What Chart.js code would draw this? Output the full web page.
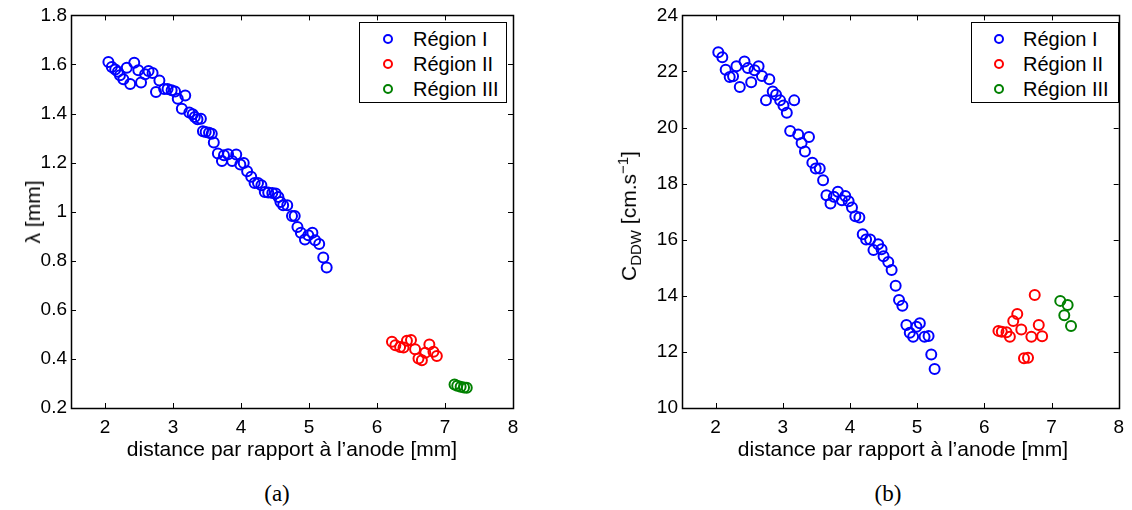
<!DOCTYPE html>
<html lang="fr">
<head>
    <meta charset="UTF-8">
    <title>Région I / II / III</title>
    <script src="https://cdn.jsdelivr.net/npm/chart.js"></script>
    <style>
        body {
            margin: 0;
            padding: 0;
            background: #ffffff;
            font-family: 'Liberation Sans', Arial, sans-serif;
        }
        #wrap {
            position: relative;
            width: 1132px;
            height: 510px;
            overflow: hidden;
        }
        canvas {
            position: absolute;
            top: 0;
        }
        .ytitle {
            position: absolute;
            font-size: 21px;
            color: #000;
            white-space: nowrap;
            transform: translate(-50%, -50%) rotate(-90deg);
        }
        .ytitle sub, .ytitle sup {
            font-size: 15px;
        }
        .xtitle {
            position: absolute;
            font-size: 21px;
            color: #000;
            white-space: nowrap;
            transform: translate(-50%, -50%);
        }
        .caption {
            position: absolute;
            font-family: 'Liberation Serif', 'DejaVu Serif', serif;
            font-size: 23px;
            color: #000;
            transform: translate(-50%, -50%);
        }
        .legend {
            position: absolute;
            top: 22px;
            height: 79px;
            border: 1px solid #000;
            background: #fff;
            font-size: 20px;
        }
        .legend div {
            position: absolute;
            white-space: nowrap;
            line-height: 20px;
        }
        .legend span.mk {
            position: absolute;
            width: 6px;
            height: 6px;
            border-radius: 50%;
            border: 2px solid;
        }
    </style>
</head>
<body>
<div id="wrap">
    <canvas id="chartA" width="560" height="470" style="left:0"></canvas>
    <canvas id="chartB" width="532" height="470" style="left:600px"></canvas>

    <div class="ytitle" style="left:33px;top:212px">&lambda; [mm]</div>
    <div class="ytitle" style="left:629px;top:216px">C<sub>DDW</sub> [cm.s<sup>&minus;1</sup>]</div>

    <div class="xtitle" style="left:292px;top:449px">distance par rapport à l’anode [mm]</div>
    <div class="xtitle" style="left:903px;top:449px">distance par rapport à l’anode [mm]</div>

    <div class="caption" style="left:277px;top:494px">(a)</div>
    <div class="caption" style="left:888px;top:494px">(b)</div>

    <div class="legend" id="legA" style="left:359px;width:146px"></div>
    <div class="legend" id="legB" style="left:971px;width:146px"></div>
</div>

<script>
    // x axis ticks (both panels)
    const xTicks = [2, 3, 4, 5, 6, 7, 8];
    const yTicksA = [0.2, 0.4, 0.6, 0.8, 1, 1.2, 1.4, 1.6, 1.8];
    const yTicksB = [10, 12, 14, 16, 18, 20, 22, 24];

    const regionLabels = ['Région I', 'Région II', 'Région III'];
    const regionColors = ['#0000ff', '#ff0000', '#008000'];

    // (a) lambda
    const lamX1 = [2.05, 2.10, 2.15, 2.19, 2.22, 2.27, 2.32, 2.37, 2.43, 2.49, 2.53, 2.59, 2.64, 2.70, 2.75, 2.80,
        2.87, 2.92, 2.98, 3.03, 3.07, 3.13, 3.18, 3.24, 3.29, 3.32, 3.36, 3.41, 3.44, 3.48, 3.53, 3.57,
        3.60, 3.66, 3.72, 3.75, 3.81, 3.87, 3.93, 3.99, 4.04, 4.09, 4.15, 4.20, 4.25, 4.30, 4.35, 4.40,
        4.46, 4.51, 4.55, 4.58, 4.62, 4.68, 4.75, 4.79, 4.83, 4.88, 4.94, 4.99, 5.05, 5.09, 5.15, 5.21, 5.26];
    const lamY1 = [1.61, 1.59, 1.58, 1.57, 1.556, 1.54, 1.587, 1.52, 1.607, 1.576, 1.527, 1.56, 1.573, 1.565, 1.488, 1.535,
        1.50, 1.50, 1.495, 1.49, 1.46, 1.42, 1.474, 1.404, 1.397, 1.386, 1.377, 1.379, 1.328, 1.325, 1.322, 1.318,
        1.282, 1.237, 1.207, 1.23, 1.234, 1.207, 1.233, 1.192, 1.198, 1.165, 1.142, 1.117, 1.117, 1.108, 1.08, 1.078,
        1.076, 1.074, 1.06, 1.04, 1.026, 1.026, 0.982, 0.982, 0.938, 0.914, 0.887, 0.904, 0.914, 0.884, 0.868, 0.813, 0.773];
    const lamX2 = [6.22, 6.27, 6.34, 6.39, 6.44, 6.50, 6.56, 6.61, 6.66, 6.71, 6.77, 6.83, 6.88];
    const lamY2 = [0.470, 0.456, 0.449, 0.447, 0.474, 0.477, 0.439, 0.402, 0.395, 0.425, 0.459, 0.429, 0.412];
    const lamX3 = [7.14, 7.18, 7.23, 7.28, 7.32];
    const lamY3 = [0.296, 0.291, 0.287, 0.284, 0.283];

    // (b) C_DDW
    const cX1 = [2.04, 2.10, 2.15, 2.21, 2.26, 2.31, 2.36, 2.43, 2.48, 2.53, 2.58, 2.64, 2.69, 2.75, 2.80, 2.85,
        2.90, 2.96, 3.01, 3.06, 3.11, 3.17, 3.23, 3.28, 3.33, 3.39, 3.44, 3.49, 3.55, 3.60, 3.65, 3.71,
        3.76, 3.82, 3.88, 3.93, 3.98, 4.03, 4.08, 4.14, 4.19, 4.24, 4.30, 4.35, 4.42, 4.47, 4.50, 4.57,
        4.62, 4.68, 4.73, 4.78, 4.84, 4.89, 4.94, 4.99, 5.04, 5.11, 5.17, 5.21, 5.26];
    const cY1 = [22.69, 22.51, 22.06, 21.80, 21.83, 22.19, 21.45, 22.36, 22.12, 21.62, 22.04, 22.19, 21.84, 20.97, 21.72, 21.29,
        21.17, 20.97, 20.79, 20.53, 19.88, 20.97, 19.75, 19.45, 19.15, 19.66, 18.75, 18.54, 18.54, 18.12, 17.59, 17.29,
        17.53, 17.71, 17.41, 17.56, 17.37, 17.15, 16.84, 16.79, 16.20, 16.01, 16.01, 15.63, 15.84, 15.66, 15.41, 15.21,
        14.92, 14.36, 13.85, 13.65, 12.96, 12.68, 12.54, 12.90, 13.02, 12.54, 12.57, 11.91, 11.39];
    const cX2 = [6.21, 6.26, 6.33, 6.38, 6.43, 6.49, 6.55, 6.59, 6.65, 6.70, 6.75, 6.81, 6.86];
    const cY2 = [12.75, 12.72, 12.70, 12.54, 13.10, 13.35, 12.80, 11.77, 11.79, 12.54, 14.03, 12.96, 12.56];
    const cX3 = [7.13, 7.19, 7.24, 7.29];
    const cY3 = [13.82, 13.31, 13.67, 12.92];

    Chart.defaults.font.family = "'Liberation Sans', Arial, sans-serif";
    Chart.defaults.color = '#000';

    function toPoints(xs, ys) {
        return xs.map((x, i) => ({ x: x, y: ys[i] }));
    }

    function makeSet(i, xs, ys) {
        return {
            label: regionLabels[i],
            data: toPoints(xs, ys),
            borderColor: regionColors[i],
            backgroundColor: 'rgba(0,0,0,0)',
            pointRadius: 5,
            pointBorderWidth: 2,
            pointHoverRadius: 5,
            showLine: false
        };
    }

    // box round the plot with inward ticks on all four sides
    const frame = {
        id: 'frame',
        afterDatasetsDraw(chart) {
            const ctx = chart.ctx;
            const a = chart.chartArea;
            const len = 5;
            ctx.save();
            ctx.strokeStyle = '#000';
            ctx.lineWidth = 1;
            ctx.beginPath();
            chart.scales.x.ticks.forEach(t => {
                const px = Math.round(chart.scales.x.getPixelForValue(t.value)) + 0.5;
                ctx.moveTo(px, a.bottom); ctx.lineTo(px, a.bottom - len);
                ctx.moveTo(px, a.top); ctx.lineTo(px, a.top + len);
            });
            chart.scales.y.ticks.forEach(t => {
                const py = Math.round(chart.scales.y.getPixelForValue(t.value)) + 0.5;
                ctx.moveTo(a.left, py); ctx.lineTo(a.left + len, py);
                ctx.moveTo(a.right, py); ctx.lineTo(a.right - len, py);
            });
            ctx.stroke();
            ctx.lineWidth = 1.5;
            ctx.strokeRect(Math.round(a.left) + 0.5, Math.round(a.top) + 0.5,
                Math.round(a.right - a.left), Math.round(a.bottom - a.top));
            ctx.restore();
        }
    };

    function makeChart(id, sets, yMin, yMax, yTicks, yWidth, padRight) {
        return new Chart(document.getElementById(id), {
            type: 'scatter',
            data: { datasets: sets },
            options: {
                responsive: false,
                animation: false,
                layout: { padding: { top: 15, right: padRight, left: 0, bottom: 0 } },
                plugins: {
                    legend: { display: false },
                    tooltip: { enabled: false }
                },
                scales: {
                    x: {
                        type: 'linear',
                        min: 1.5,
                        max: 8,
                        afterBuildTicks: s => { s.ticks = xTicks.map(v => ({ value: v })); },
                        afterFit: s => { s.height = 62; },
                        grid: { display: false, drawTicks: false },
                        border: { display: false },
                        ticks: { font: { size: 19 }, padding: 8, maxRotation: 0 }
                    },
                    y: {
                        type: 'linear',
                        min: yMin,
                        max: yMax,
                        afterBuildTicks: s => { s.ticks = yTicks.map(v => ({ value: v })); },
                        afterFit: s => { s.width = yWidth; },
                        grid: { display: false, drawTicks: false },
                        border: { display: false },
                        ticks: {
                            font: { size: 19 },
                            padding: 4,
                            callback: v => String(Math.round(v * 10) / 10)
                        }
                    }
                }
            },
            plugins: [frame]
        });
    }

    makeChart('chartA', [
        makeSet(0, lamX1, lamY1),
        makeSet(1, lamX2, lamY2),
        makeSet(2, lamX3, lamY3)
    ], 0.2, 1.8, yTicksA, 71, 47);

    makeChart('chartB', [
        makeSet(0, cX1, cY1),
        makeSet(1, cX2, cY2),
        makeSet(2, cX3, cY3)
    ], 10, 24, yTicksB, 82, 8);

    // legends inside the plot boxes
    function fillLegend(id, markX, textX) {
        const box = document.getElementById(id);
        const rows = [15.5, 41, 66];
        regionLabels.forEach((lab, i) => {
            const mk = document.createElement('span');
            mk.className = 'mk';
            mk.style.borderColor = regionColors[i];
            mk.style.left = (markX - 5) + 'px';
            mk.style.top = (rows[i] - 5) + 'px';
            box.appendChild(mk);
            const tx = document.createElement('div');
            tx.textContent = lab;
            tx.style.left = textX + 'px';
            tx.style.top = (rows[i] - 10) + 'px';
            box.appendChild(tx);
        });
    }
    fillLegend('legA', 28, 53);
    fillLegend('legB', 27, 51);
</script>
</body>
</html>
